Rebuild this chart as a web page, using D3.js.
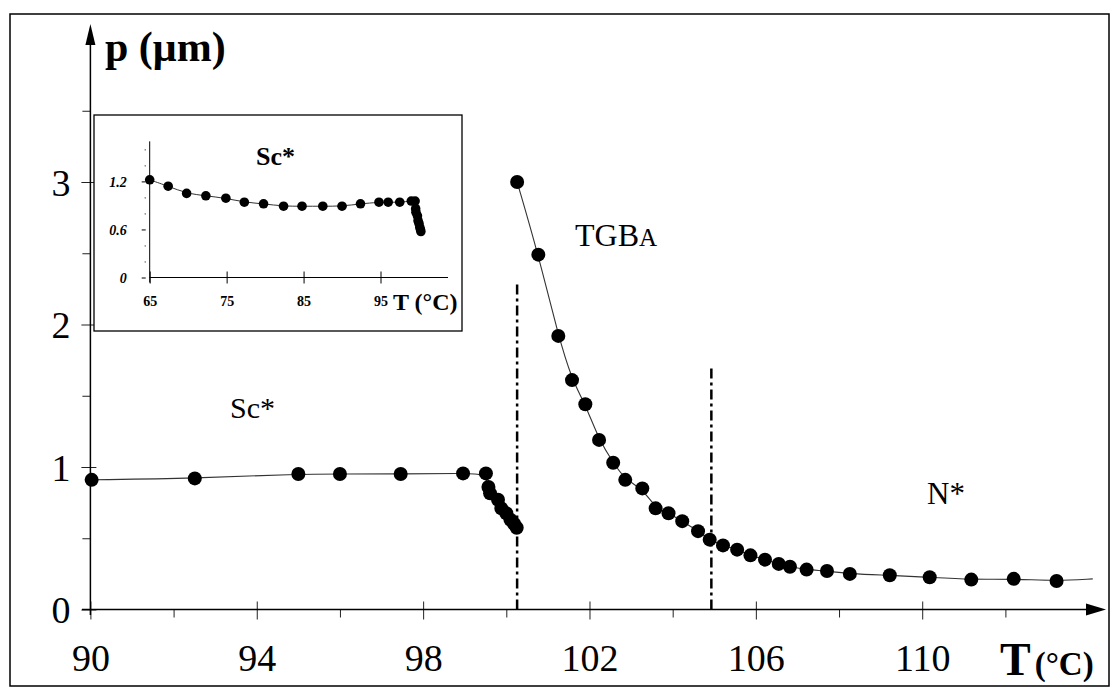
<!DOCTYPE html>
<html>
<head>
<meta charset="utf-8">
<script src="https://cdn.jsdelivr.net/npm/d3@7"></script>
<style>
  body { margin: 0; background: #fff; }
  svg text { font-family: "Liberation Serif", "DejaVu Serif", serif; fill: #000; }
</style>
</head>
<body>
<svg id="chart" width="1113" height="687"></svg>
<script>
// main plot, Sc* phase (T in °C, p in µm)
var scT = [90.03, 92.51, 95.0, 96.0, 97.46, 98.96, 99.51, 99.57, 99.61, 99.8, 99.88, 100.0, 100.1, 100.19, 100.25];
var scP = [0.91, 0.92, 0.951, 0.951, 0.951, 0.955, 0.955, 0.86, 0.815, 0.77, 0.71, 0.675, 0.63, 0.60, 0.574];
// TGBA + N* branch
var tgT = [100.26, 100.77, 101.25, 101.58, 101.9, 102.23, 102.57, 102.86, 103.27, 103.59, 103.9, 104.23, 104.61, 104.89,
           105.21, 105.55, 105.87, 106.22, 106.55, 106.82, 107.22, 107.71, 108.26, 109.22, 110.18, 111.18, 112.2, 113.23];
var tgP = [3.0, 2.49, 1.92, 1.61, 1.44, 1.19, 1.03, 0.91, 0.85, 0.71, 0.675, 0.62, 0.55, 0.49,
           0.45, 0.42, 0.38, 0.35, 0.32, 0.30, 0.28, 0.27, 0.25, 0.24, 0.226, 0.21, 0.215, 0.20];
// fitted line runs past the last point
var tgLineEnd = [114.1, 0.215];
// phase boundaries (dash-dot), T and top of the line
var boundT = [100.26, 104.93];
var boundTop = [2.3, 1.72];
var xMajor = [90, 94, 98, 102, 106, 110];
var xMinor = [92, 96, 100, 104, 108, 112];
var yMajor = [0, 1, 2, 3];
var yMinor = [0.5, 1.5, 2.5, 3.5];

// inset: wider Sc* range
var inT = [65.0, 67.4, 69.8, 72.3, 74.9, 77.3, 79.8, 82.4, 84.8, 87.5, 90.0, 92.4, 94.8, 96.0, 97.5, 99.0,
           99.5, 99.57, 99.61, 99.8, 99.88, 100.0, 100.1, 100.19, 100.25];
var inP = [1.22, 1.14, 1.05, 1.02, 0.99, 0.94, 0.92, 0.89, 0.89, 0.89, 0.89, 0.92, 0.94, 0.94, 0.94, 0.955,
           0.955, 0.86, 0.815, 0.77, 0.71, 0.675, 0.63, 0.60, 0.574];
var inXTicks = [65, 75, 85, 95];
var inYTicks = [0, 0.2, 0.4, 0.6, 0.8, 1.0, 1.2, 1.4, 1.6];
var inYLabels = [0, 0.6, 1.2];

var svg = d3.select("#chart");

// outer frame
svg.append("rect").attr("x", 10).attr("y", 14).attr("width", 1099).attr("height", 672)
  .attr("fill", "none").attr("stroke", "#000").attr("stroke-width", 1.5);

var x = d3.scaleLinear().domain([90, 112]).range([90.4, 1005.4]);
var y = d3.scaleLinear().domain([0, 3]).range([609.5, 182]);

// ---- main axes ----
var gx = svg.append("g").attr("transform", "translate(0," + y(0) + ")");
gx.call(d3.axisBottom(x).tickValues(xMajor).tickSize(10).tickFormat(d3.format("d")));
gx.selectAll(".tick line").attr("y1", -8).attr("stroke", "#222");
gx.selectAll(".tick text").attr("y", 61).attr("dy", 0)
  .style("font-family", "Liberation Serif").style("font-size", "38px").attr("fill", "#000");
var gxm = svg.append("g").attr("transform", "translate(0," + y(0) + ")");
gxm.call(d3.axisBottom(x).tickValues(xMinor).tickSize(8).tickFormat(""));
gxm.selectAll(".tick line").attr("stroke", "#222");
svg.selectAll(".domain").remove();

var gy = svg.append("g").attr("transform", "translate(" + x(90) + ",0)");
gy.call(d3.axisLeft(y).tickValues(yMajor).tickSize(9).tickFormat(d3.format("d")));
gy.selectAll(".tick line").attr("x1", 6).attr("stroke", "#222");
gy.selectAll(".tick text").attr("x", -20).attr("dy", "0.35em")
  .style("font-family", "Liberation Serif").style("font-size", "38px").attr("fill", "#000");
var gym = svg.append("g").attr("transform", "translate(" + x(90) + ",0)");
gym.call(d3.axisLeft(y).tickValues(yMinor).tickSize(8).tickFormat(""));
gym.selectAll(".tick line").attr("stroke", "#222");
svg.selectAll(".domain").remove();

// axis lines with arrows
svg.append("line").attr("x1", 82).attr("x2", 1090).attr("y1", y(0)).attr("y2", y(0))
  .attr("stroke", "#000").attr("stroke-width", 1.5);
svg.append("path").attr("d", "M1086," + (y(0) - 6) + "L1106," + y(0) + "L1086," + (y(0) + 6) + "Z").attr("fill", "#000");
svg.append("line").attr("x1", x(90)).attr("x2", x(90)).attr("y1", 615).attr("y2", 42)
  .attr("stroke", "#000").attr("stroke-width", 1.5);
svg.append("path").attr("d", "M" + (x(90) - 5) + ",45L" + x(90) + ",24L" + (x(90) + 5) + ",45Z").attr("fill", "#000");

// axis titles
svg.append("text").attr("x", 105).attr("y", 61).style("font-size", "42px").style("font-weight", "bold").text("p (\u03bcm)");
var tt = svg.append("text").attr("x", 1000).attr("y", 675).style("font-weight", "bold");
tt.append("tspan").style("font-size", "46px").text("T");
tt.append("tspan").style("font-size", "33px").attr("dx", 4).text("(\u00b0C)");

// phase boundaries
svg.selectAll(".bound").data(boundT).enter().append("line").attr("class", "bound")
  .attr("x1", function(d) { return x(d); }).attr("x2", function(d) { return x(d); })
  .attr("y1", y(0)).attr("y2", function(d, i) { return y(boundTop[i]); })
  .attr("stroke", "#000").attr("stroke-width", 2.5).attr("stroke-dasharray", "10,4,3,4");

// lines through data
var scData = scT.map(function(t, i) { return [t, scP[i]]; });
var tgData = tgT.map(function(t, i) { return [t, tgP[i]]; });
var line = d3.line().x(function(d) { return x(d[0]); }).y(function(d) { return y(d[1]); }).curve(d3.curveBasis);
svg.append("path").datum(scData).attr("d", line).attr("fill", "none").attr("stroke", "#333").attr("stroke-width", 1.1);
svg.append("path").datum(tgData.concat([tgLineEnd])).attr("d", line).attr("fill", "none").attr("stroke", "#333").attr("stroke-width", 1.1);

svg.selectAll(".pt").data(scData.concat(tgData)).enter().append("circle").attr("class", "pt")
  .attr("cx", function(d) { return x(d[0]); }).attr("cy", function(d) { return y(d[1]); })
  .attr("r", 7).attr("fill", "#000");

// phase labels
svg.append("text").attr("x", 230).attr("y", 418).style("font-size", "30px").text("Sc*");
var tg = svg.append("text").attr("x", 575).attr("y", 246).style("font-size", "32px");
tg.append("tspan").text("TGB");
tg.append("tspan").style("font-size", "25px").text("A");
svg.append("text").attr("x", 927).attr("y", 504).style("font-size", "31px").text("N*");

// ---- inset ----
var inset = svg.append("g");
inset.append("rect").attr("x", 94).attr("y", 115).attr("width", 368).attr("height", 216)
  .attr("fill", "#fff").attr("stroke", "#000").attr("stroke-width", 1.3);
var ix = d3.scaleLinear().domain([65, 95]).range([149.7, 380.5]);
var iy = d3.scaleLinear().domain([0, 1.2]).range([277.5, 181.4]);

inset.append("line").attr("x1", ix(65)).attr("x2", 448).attr("y1", iy(0)).attr("y2", iy(0)).attr("stroke", "#000");
inset.append("line").attr("x1", ix(65)).attr("x2", ix(65)).attr("y1", iy(0) + 5).attr("y2", iy(1.7)).attr("stroke", "#000");

var igx = inset.append("g").attr("transform", "translate(0," + iy(0) + ")");
igx.call(d3.axisBottom(ix).tickValues(inXTicks).tickSize(6).tickFormat(d3.format("d")));
igx.selectAll(".tick line").attr("y1", -6);
igx.selectAll(".tick text").attr("y", 28).attr("dy", 0)
  .style("font-family", "Liberation Serif").style("font-size", "14px").style("font-weight", "bold").attr("fill", "#000");
var igy = inset.append("g").attr("transform", "translate(" + ix(65) + ",0)");
igy.call(d3.axisLeft(iy).tickValues(inYTicks).tickSize(4)
  .tickFormat(function(d) { return inYLabels.indexOf(d) >= 0 ? (d === 0 ? "0" : d3.format(".1f")(d)) : ""; }));
igy.selectAll(".tick line").attr("x1", function(d) { return inYLabels.indexOf(d) >= 0 ? -8 : -5; });
igy.selectAll(".tick text").attr("x", -23).attr("dy", "0.35em")
  .style("font-family", "Liberation Serif").style("font-size", "14px").style("font-style", "italic").style("font-weight", "bold").attr("fill", "#000");
inset.selectAll(".domain").remove();

var inData = inT.map(function(t, i) { return [t, inP[i]]; });
var iline = d3.line().x(function(d) { return ix(d[0]); }).y(function(d) { return iy(d[1]); }).curve(d3.curveBasis);
inset.append("path").datum(inData).attr("d", iline).attr("fill", "none").attr("stroke", "#333").attr("stroke-width", 1);
inset.selectAll(".ipt").data(inData).enter().append("circle").attr("class", "ipt")
  .attr("cx", function(d) { return ix(d[0]); }).attr("cy", function(d) { return iy(d[1]); })
  .attr("r", 4.8).attr("fill", "#000");

inset.append("text").attr("x", 256).attr("y", 165).style("font-size", "26px").style("font-weight", "bold").text("Sc*");
inset.append("text").attr("x", 393).attr("y", 310).style("font-size", "24px").style("font-weight", "bold").text("T (\u00b0C)");
</script>
</body>
</html>
